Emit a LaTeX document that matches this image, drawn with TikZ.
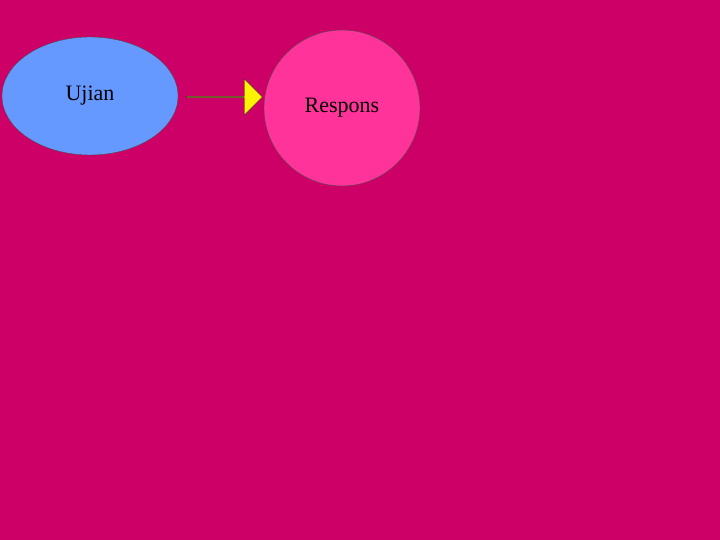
\documentclass[tikz,border=0pt]{standalone}
\usepackage{fontspec}
\setmainfont{Liberation Serif}
\usetikzlibrary{shapes.geometric,shapes.arrows}
\definecolor{bg}{HTML}{CC0066}
\definecolor{blueE}{HTML}{6699FF}
\definecolor{pinkC}{HTML}{FF3399}
\tikzset{lbl/.style={font=\fontsize{22}{26}\selectfont, text=black}}
\begin{document}
\begin{tikzpicture}[x=1pt,y=-1pt]
\fill[bg] (0,0) rectangle (720,540);
\useasboundingbox (0,0) rectangle (720,540);
\node[ellipse, draw=black!70, fill=blueE, minimum width=176, minimum height=118, inner sep=0, lbl] (u) at (90,96) {Ujian};
\node[ellipse, draw=black!70, fill=pinkC, minimum width=156, minimum height=156, inner sep=0, lbl] (r) at (342,108) {Respons};
\node[single arrow, draw=black!80, fill=yellow, minimum height=76, minimum width=36, single arrow head extend=6, inner sep=0] (a) at (224,97) {};
\end{tikzpicture}
\end{document}
